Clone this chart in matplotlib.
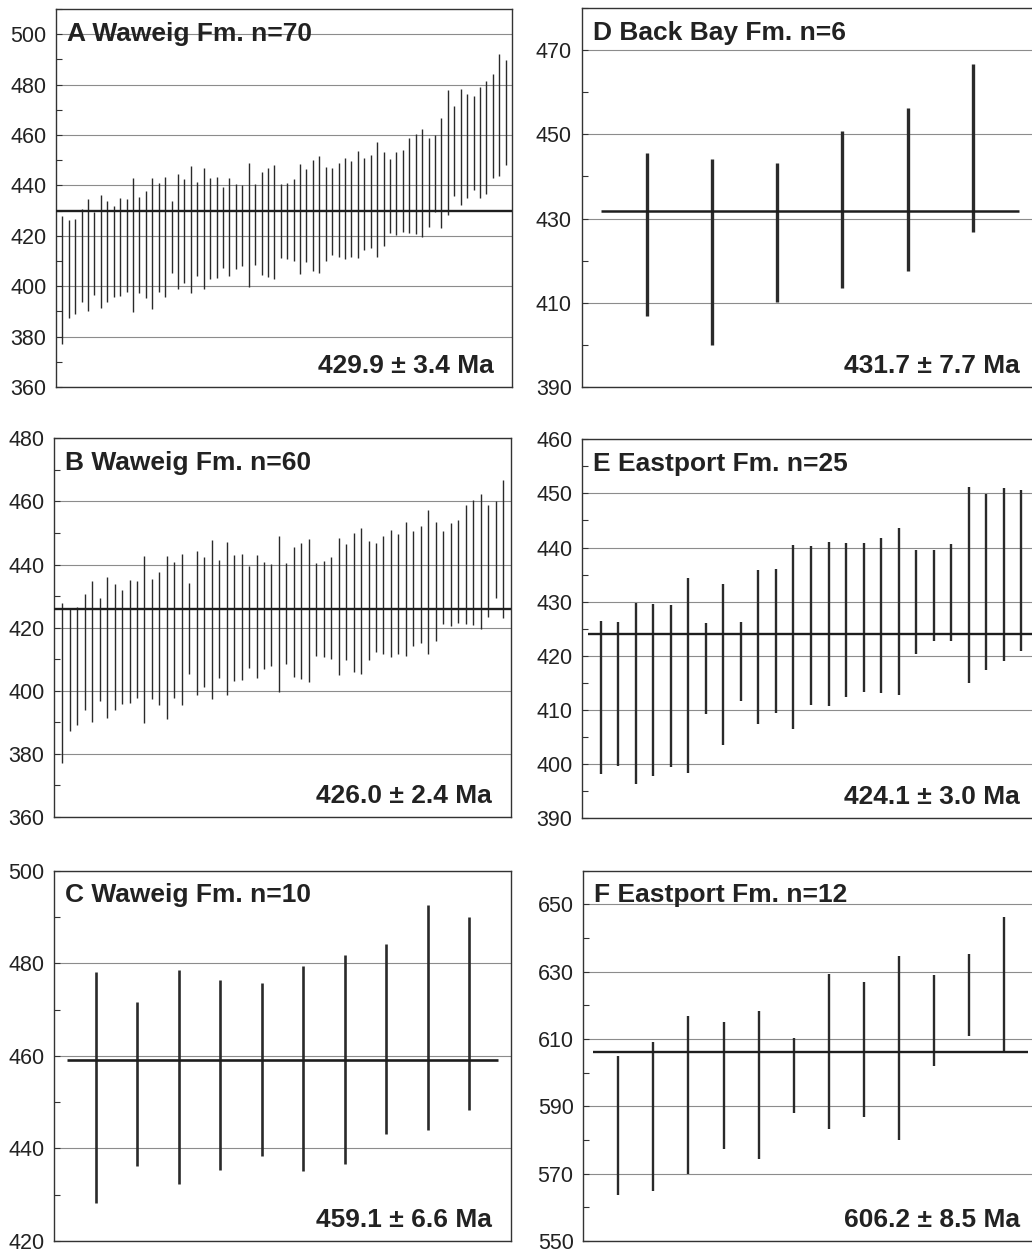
import numpy as np
import matplotlib
matplotlib.use('Agg')
from matplotlib import pyplot as plt
from matplotlib.ticker import MultipleLocator

plt.rcParams['font.family'] = ['Liberation Sans', 'DejaVu Sans']

# --- data (ages in Ma, low / high end of each grain's error bar) ---
a_low = [377.1, 387.4, 389.0, 393.8, 390.1, 396.7, 391.4, 393.8, 395.9, 396.0,
         397.7, 389.8, 397.4, 395.4, 391.1, 397.7, 395.6, 405.3, 398.7, 401.2,
         397.4, 404.0, 398.7, 403.0, 403.4, 407.3, 404.0, 407.0, 407.9, 399.6,
         408.6, 404.4, 403.6, 402.8, 411.0, 410.6, 410.0, 404.9, 409.7, 406.0,
         405.3, 409.9, 412.3, 411.5, 410.6, 411.5, 411.0, 414.2, 415.0, 411.5,
         415.9, 421.2, 420.5, 421.5, 421.2, 420.9, 419.7, 423.4, 429.5, 423.2,
         428.1, 435.8, 432.2, 435.1, 438.0, 435.1, 436.4, 442.8, 443.7, 448.1]
a_high = [427.8, 426.2, 426.5, 430.6, 434.8, 429.3, 436.0, 433.8, 431.8, 435.1,
          434.7, 442.8, 435.4, 437.7, 442.8, 440.9, 443.4, 434.0, 444.4, 442.4,
          447.7, 441.3, 447.0, 442.9, 443.2, 439.5, 442.9, 440.7, 440.1, 449.0,
          440.5, 445.4, 446.8, 448.1, 440.4, 441.1, 442.4, 448.3, 446.6, 449.9,
          451.5, 447.4, 446.8, 448.9, 451.0, 449.7, 453.6, 450.7, 452.1, 457.2,
          453.4, 450.6, 453.3, 454.2, 458.9, 460.5, 462.3, 458.9, 460.0, 466.9,
          477.7, 471.4, 478.1, 476.2, 475.5, 479.1, 481.5, 484.1, 492.3, 489.7]

# panel B holds the 60 youngest grains of panel A
b_low = a_low[:60]
b_high = a_high[:60]

c_low = [428.3, 436.2, 432.4, 435.3, 438.3, 435.1, 436.6, 443.1, 444.0, 448.2]
c_high = [478.2, 471.7, 478.5, 476.3, 475.8, 479.5, 481.8, 484.2, 492.5, 489.9]

d_low = [406.7, 399.8, 410.2, 413.4, 417.6, 426.7]
d_high = [445.6, 444.1, 443.2, 450.9, 456.4, 466.7]

e_low = [398.1, 399.7, 396.3, 397.8, 399.5, 398.3, 409.3, 403.5, 411.7, 407.3,
         409.4, 406.5, 410.8, 410.7, 412.3, 413.3, 413.1, 412.8, 420.4, 422.7,
         422.8, 415.0, 417.3, 419.1, 420.9]
e_high = [426.5, 426.3, 429.8, 429.5, 429.4, 434.3, 426.0, 433.3, 426.2, 435.9,
          436.0, 440.4, 440.2, 441.1, 440.9, 440.9, 441.8, 443.6, 439.6, 439.5,
          440.7, 451.1, 449.9, 451.0, 450.6]

f_low = [563.8, 565.0, 569.9, 577.2, 574.3, 588.1, 583.3, 586.9, 580.1, 602.1, 610.9, 606.3]
f_high = [605.0, 609.2, 616.7, 615.2, 618.2, 610.3, 629.4, 627.0, 634.8, 629.1, 635.4, 646.3]

titles = ['A Waweig Fm. n=70', 'B Waweig Fm. n=60', 'C Waweig Fm. n=10',
          'D Back Bay Fm. n=6', 'E Eastport Fm. n=25', 'F Eastport Fm. n=12']
means = [429.9, 426.0, 459.1, 431.7, 424.1, 606.2]
errs = [3.4, 2.4, 6.6, 7.7, 3.0, 8.5]

W, H = 1032, 1253
fig = plt.figure(figsize=(W / 100, H / 100), dpi=100)
fig.patch.set_facecolor('white')

TXT = '#222222'


def px_axes(left, top, right, bottom):
    return fig.add_axes([left / W, 1 - bottom / H, (right - left) / W, (bottom - top) / H])


# (pixel box, lows, highs, ylim, major step, major offset, minor, xlim, mean-line span, bar lw, mean lw)
panels = [
    ((56, 9, 512, 387), a_low, a_high, (360, 510), 20, 0, 10, (0.02, 70.98), None, 1.0, 1.7),
    ((54.3, 438.3, 510.7, 817), b_low, b_high, (360, 480), 20, 0, 10, (-0.07, 61.03), None, 1.0, 1.7),
    ((54.3, 870.7, 510.7, 1241), c_low, c_high, (420, 500), 20, 0, 10, (0, 11), (0.3, 10.7), 1.9, 1.9),
    ((581.7, 8.3, 1038, 386.7), d_low, d_high, (390, 480), 20, 10, 10, (0, 7), (0.29, 6.71), 2.4, 1.8),
    ((582.3, 439.3, 1038, 818), e_low, e_high, (390, 460), 10, 0, 5, (-0.05, 25.95), (0.28, 25.7), 1.7, 1.7),
    ((583.3, 870.7, 1039, 1241), f_low, f_high, (550, 660), 20, 10, 10, (0, 13), (0.29, 12.7), 1.7, 1.7),
]

for i, (box, lo, hi, ylim, major, moff, minor, xlim, span, blw, mlw) in enumerate(panels):
    ax = px_axes(*box)
    ax.set_xlim(*xlim)
    ax.set_ylim(*ylim)
    ax.yaxis.set_major_locator(MultipleLocator(major, offset=moff))
    ax.yaxis.set_minor_locator(MultipleLocator(minor))
    ax.set_xticks([])
    ax.grid(axis='y', which='major', color='#8c8c8c', lw=0.8, zorder=0)
    ax.set_axisbelow(True)
    ax.tick_params(axis='y', which='both', direction='in', colors='#333333',
                   labelcolor=TXT, labelsize=15.5, pad=7)
    ax.tick_params(axis='y', which='major', length=4, width=0.8)
    ax.tick_params(axis='y', which='minor', length=4, width=0.8)
    for s in ax.spines.values():
        s.set_color('#333333')
        s.set_linewidth(1.0)

    x = np.arange(1, len(lo) + 1)
    ax.vlines(x, lo, hi, color='#2a2a2a', lw=blw, zorder=3)
    if span is None:
        span = xlim
    ax.hlines(means[i], span[0], span[1], color='#1e1e1e', lw=mlw, zorder=4)

    # titles / result label are placed in pixel offsets from the frame
    w_ax = box[2] - box[0]
    h_ax = box[3] - box[1]
    ax.text(11 / w_ax, 1 - 12.5 / h_ax, titles[i], transform=ax.transAxes,
            ha='left', va='top', fontsize=19, fontweight='bold', color=TXT, zorder=5)
    ax.text(1 - 18.5 / w_ax, 14 / h_ax, f'{means[i]:.1f} \u00b1 {errs[i]:.1f} Ma',
            transform=ax.transAxes, ha='right', va='baseline', fontsize=19,
            fontweight='bold', color=TXT, zorder=5)

fig.savefig('out.png', dpi=100, facecolor='white')
